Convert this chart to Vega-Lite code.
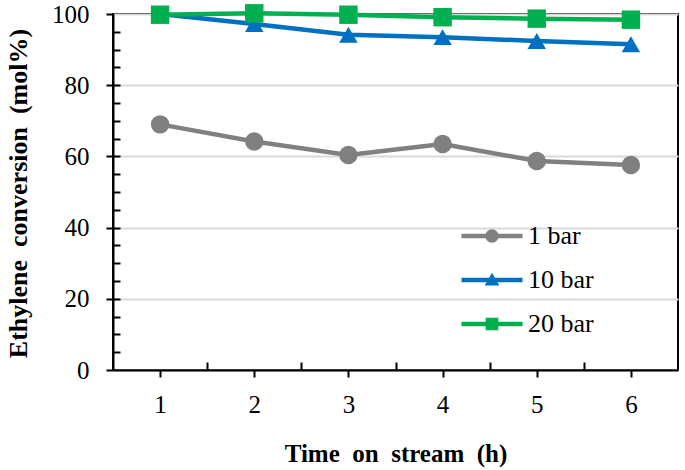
{
  "$schema": "https://vega.github.io/schema/vega-lite/v6.json",
  "width": 565,
  "height": 356,
  "autosize": {"type": "none"},
  "padding": {"left": 113, "top": 14, "right": 7, "bottom": 100},
  "background": "white",
  "data": {
    "values": [
      {"t": 1, "v": 69.0, "s": "1 bar"},
      {"t": 2, "v": 64.2, "s": "1 bar"},
      {"t": 3, "v": 60.4, "s": "1 bar"},
      {"t": 4, "v": 63.5, "s": "1 bar"},
      {"t": 5, "v": 58.7, "s": "1 bar"},
      {"t": 6, "v": 57.6, "s": "1 bar"},
      {"t": 1, "v": 100.0, "s": "10 bar"},
      {"t": 2, "v": 97.2, "s": "10 bar"},
      {"t": 3, "v": 94.2, "s": "10 bar"},
      {"t": 4, "v": 93.5, "s": "10 bar"},
      {"t": 5, "v": 92.4, "s": "10 bar"},
      {"t": 6, "v": 91.5, "s": "10 bar"},
      {"t": 1, "v": 99.8, "s": "20 bar"},
      {"t": 2, "v": 100.2, "s": "20 bar"},
      {"t": 3, "v": 99.8, "s": "20 bar"},
      {"t": 4, "v": 99.1, "s": "20 bar"},
      {"t": 5, "v": 98.7, "s": "20 bar"},
      {"t": 6, "v": 98.4, "s": "20 bar"}
    ]
  },
  "resolve": {
    "axis": {"x": "independent", "y": "independent"},
    "legend": {"color": "independent", "shape": "independent"}
  },
  "layer": [
    {
      "mark": {"type": "line", "strokeWidth": 4.5},
      "encoding": {
        "x": {
          "field": "t",
          "type": "quantitative",
          "scale": {"domain": [0.5, 6.5], "nice": false, "zero": false},
          "axis": {
            "orient": "bottom",
            "values": [1, 2, 3, 4, 5, 6],
            "title": "Time\u00a0\u00a0on\u00a0\u00a0stream\u00a0\u00a0(h)",
            "titleY": 83,
            "titleBaseline": "middle",
            "labelPadding": 15,
            "tickSize": 7,
            "grid": false
          }
        },
        "y": {
          "field": "v",
          "type": "quantitative",
          "scale": {"domain": [0, 100], "nice": false},
          "axis": {
            "orient": "left",
            "values": [0, 20, 40, 60, 80, 100],
            "title": "Ethylene\u00a0\u00a0conversion\u00a0\u00a0(mol%)",
            "titleFontSize": 26,
            "titleX": -95,
            "titleY": 179,
            "titleBaseline": "middle",
            "labelPadding": 17,
            "tickSize": 7,
            "grid": true,
            "gridColor": "#d9d9d9",
            "gridWidth": 2
          }
        },
        "color": {
          "field": "s",
          "type": "nominal",
          "scale": {"domain": ["1 bar", "10 bar", "20 bar"], "range": ["#808080", "#0070C0", "#00B050"]},
          "legend": {
            "title": null,
            "orient": "none",
            "legendX": 366,
            "legendY": 209,
            "padding": 0,
            "rowPadding": 18,
            "labelOffset": 23,
            "labelFontSize": 26,
            "labelFont": "Liberation Serif",
            "labelColor": "black",
            "symbolSize": 196,
            "symbolStrokeWidth": 0,
            "symbolOpacity": 1,
            "encode": {
              "labels": {
                "update": {
                  "font": {"value": "Liberation Serif"}
                }
              },
              "symbols": {
                "update": {
                  "shape": {"signal": "datum.value === '1 bar' ? 'M-4.36,-0.33 L4.36,-0.33 L4.36,0.33 L-4.36,0.33 Z M-0.95,0 A0.95,0.95 0 1,1 0.95,0 A0.95,0.95 0 1,1 -0.95,0 Z' : datum.value === '10 bar' ? 'M-4.36,-0.33 L4.36,-0.33 L4.36,0.33 L-4.36,0.33 Z M0,-1.05 L1.05,0.8 L-1.05,0.8 Z' : 'M-4.36,-0.33 L4.36,-0.33 L4.36,0.33 L-4.36,0.33 Z M-0.9,-0.9 L0.9,-0.9 L0.9,0.9 L-0.9,0.9 Z'"},
                  "fill": {"signal": "datum.value === '1 bar' ? '#808080' : datum.value === '10 bar' ? '#0070C0' : '#00B050'"},
                  "stroke": {"value": "transparent"},
                  "strokeWidth": {"value": 0},
                  "size": {"value": 196}
                }
              }
            }
          }
        }
      }
    },
    {
      "mark": {"type": "point", "filled": true, "opacity": 1, "size": 340},
      "encoding": {
        "x": {"field": "t", "type": "quantitative", "axis": null},
        "y": {"field": "v", "type": "quantitative", "axis": null},
        "shape": {
          "field": "s",
          "type": "nominal",
          "scale": {"domain": ["1 bar", "10 bar", "20 bar"], "range": ["circle", "triangle-up", "square"]},
          "legend": null
        },
        "color": {"field": "s", "type": "nominal", "legend": null}
      }
    },
    {
      "mark": {"type": "point", "opacity": 0},
      "encoding": {
        "x": {
          "field": "t",
          "type": "quantitative",
          "axis": {
            "orient": "bottom",
            "values": [1.5, 2.5, 3.5, 4.5, 5.5],
            "labels": false,
            "domain": false,
            "grid": false,
            "tickSize": -8,
            "title": null
          }
        },
        "y": {
          "field": "v",
          "type": "quantitative",
          "axis": {
            "orient": "left",
            "values": [5, 10, 15, 20, 25, 30, 35, 40, 45, 50, 55, 60, 65, 70, 75, 80, 85, 90, 95],
            "labels": false,
            "domain": false,
            "grid": false,
            "tickSize": -7,
            "title": null
          }
        }
      }
    }
  ],
  "config": {
    "font": "Liberation Serif",
    "view": {"stroke": "black", "strokeWidth": 2},
    "legend": {"labelFont": "Liberation Serif"},
    "axis": {
      "domainColor": "black",
      "domainWidth": 2,
      "tickColor": "black",
      "tickWidth": 2,
      "labelFont": "Liberation Serif",
      "labelFontSize": 25,
      "labelColor": "black",
      "titleFont": "Liberation Serif",
      "titleFontSize": 25,
      "titleFontWeight": "bold",
      "titleColor": "black"
    }
  }
}
